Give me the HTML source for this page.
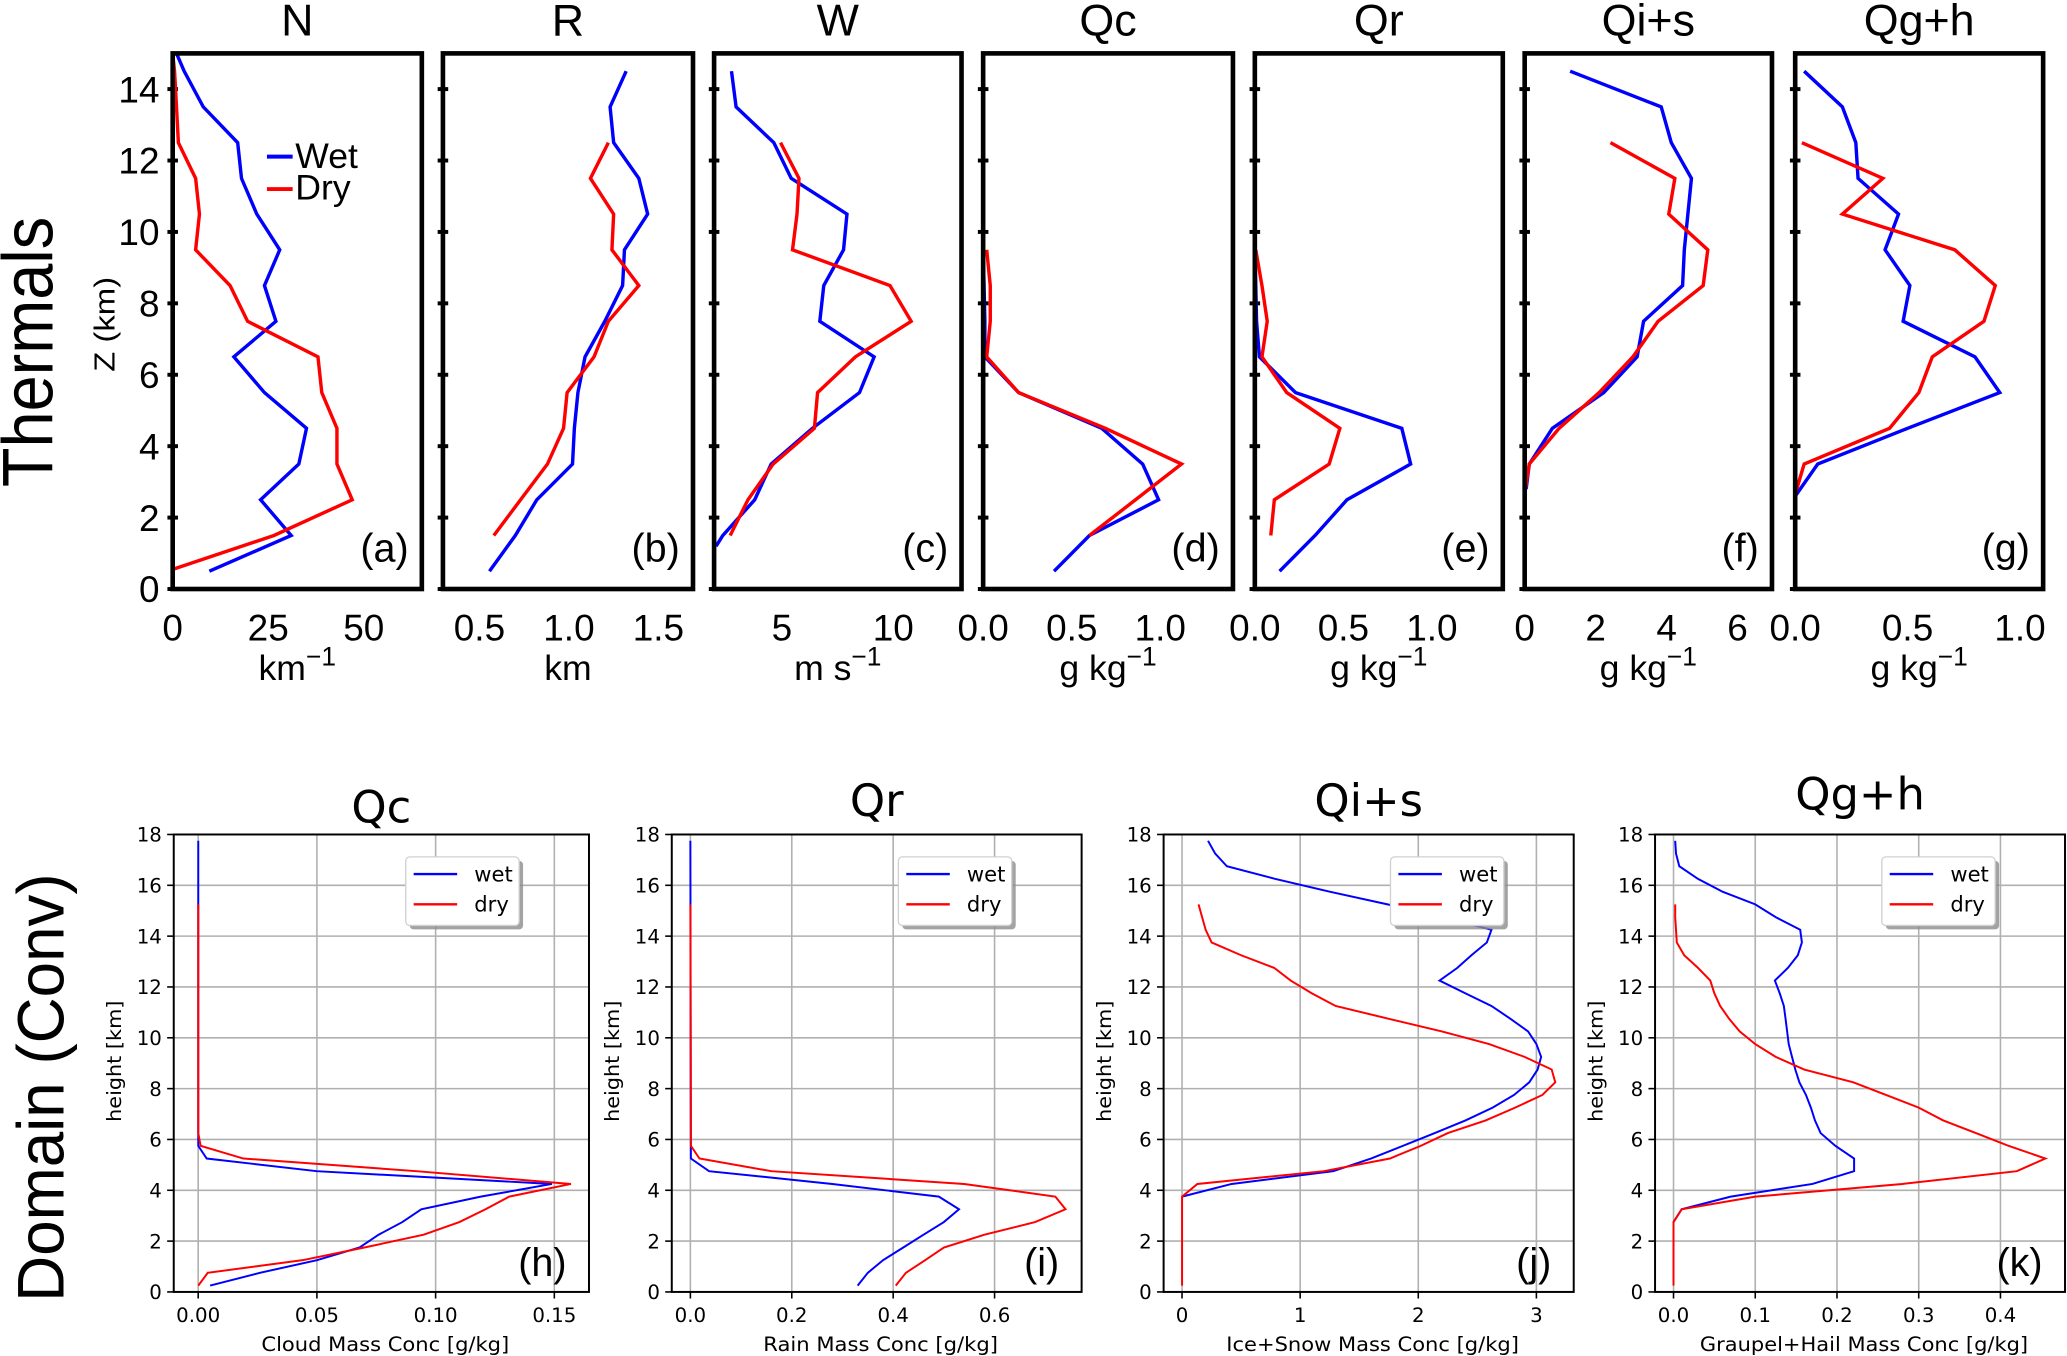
<!DOCTYPE html>
<html><head><meta charset="utf-8"><style>
html,body{margin:0;padding:0;background:#fff;}
svg{display:block;}
</style></head><body>
<svg id="fig" xmlns="http://www.w3.org/2000/svg" width="2067" height="1356" viewBox="0 0 1568 1028.6" preserveAspectRatio="none">
<rect x="0" y="0" width="1568" height="1028.6" fill="#fff"/>
</svg>
<script>
// ---------- TOP ROW (Thermals) DATA ----------
const nWetZ=[0.5,1.5,2.5,3.5,4.5,5.5,6.5,7.5,8.5,9.5,10.5,11.5,12.5,13.5,14.5,15];
const nWetV=[9.6,31,23,33,35,24,16,27,24,28,22,18,17,8,3,1];
const nDryZ=[0.55,1.5,2.5,3.5,4.5,5.5,6.5,7.5,8.5,9.5,10.5,11.5,12.5,13.5,14.5,15];
const nDryV=[0,26.5,47,43,43,39,38,19.6,15,6,7,6,1.5,1,0.5,0];
const rWetZ=[0.5,1.5,2.5,3.5,4.5,5.5,6.5,7.5,8.5,9.5,10.5,11.5,12.5,13.5,14.5];
const rWetV=[0.556,0.70,0.82,1.02,1.03,1.05,1.09,1.2,1.30,1.31,1.44,1.39,1.25,1.23,1.32];
const rDryZ=[1.5,2.5,3.5,4.5,5.5,6.5,7.5,8.5,9.5,10.5,11.5,12.5];
const rDryV=[0.58,0.73,0.88,0.97,0.99,1.14,1.22,1.39,1.24,1.25,1.12,1.22];
const wWetZ=[1.2,1.5,2.5,3.5,4.5,5.5,6.5,7.5,8.5,9.5,10.5,11.5,12.5,13.5,14.5];
const wWetV=[2.05,2.35,3.78,4.52,6.37,8.48,9.14,6.7,6.88,7.77,7.92,5.42,4.64,2.95,2.74];
const wDryZ=[1.5,2.5,3.5,4.5,5.5,6.5,7.5,8.5,9.5,10.5,11.5,12.5];
const wDryV=[2.68,3.48,4.61,6.46,6.6,8.3,10.8,9.85,5.48,5.68,5.77,4.94];
const qcWetZ=[0.5,1.5,2.5,3.5,4.5,5.5,6.5,7.5,8.5,9.5];
const qcWetV=[0.40,0.60,0.99,0.90,0.67,0.2,0.01,0.01,0.005,0.0];
const qcDryZ=[1.5,2.5,3.5,4.5,5.5,6.5,7.5,8.5,9.5];
const qcDryV=[0.60,0.86,1.12,0.69,0.2,0.02,0.04,0.04,0.02];
const qrWetZ=[0.5,1.5,2.5,3.5,4.5,5.5,6.5,7.5,8.5,9.5];
const qrWetV=[0.14,0.34,0.52,0.88,0.83,0.23,0.026,0.01,0.005,0.0];
const qrDryZ=[1.5,2.5,3.5,4.5,5.5,6.5,7.5,8.5,9.5];
const qrDryV=[0.09,0.11,0.42,0.48,0.18,0.04,0.07,0.04,0.005];
const qisWetZ=[2.8,3.5,4.5,5.5,6.5,7.5,8.5,9.5,10.5,11.5,12.5,13.5,14.5];
const qisWetV=[0.04,0.13,0.78,2.23,3.17,3.35,4.45,4.5,4.6,4.7,4.13,3.85,1.28];
const qisDryZ=[2.8,3.5,4.5,5.5,6.5,7.5,8.5,9.5,10.5,11.5,12.5];
const qisDryV=[0.02,0.13,0.97,2.1,3.05,3.76,5.03,5.16,4.06,4.23,2.42];
const qghWetZ=[2.6,3.5,4.5,5.5,6.5,7.5,8.5,9.5,10.5,11.5,12.5,13.5,14.5];
const qghWetV=[0.0,0.10,0.5,0.91,0.80,0.48,0.51,0.40,0.46,0.28,0.27,0.21,0.04];
const qghDryZ=[2.65,3.5,4.5,5.5,6.5,7.5,8.5,9.5,10.5,11.5,12.5];
const qghDryV=[0.0,0.04,0.42,0.55,0.61,0.84,0.89,0.71,0.21,0.39,0.03];

const topTitles=['N','R','W','Qc','Qr','Qi+s','Qg+h'];
const topLetters=['(a)','(b)','(c)','(d)','(e)','(f)','(g)'];
const topXTicks=[[0,25,50],[0.5,1.0,1.5],[5,10],[0.0,0.5,1.0],[0.0,0.5,1.0],[0,2,4,6],[0.0,0.5,1.0]];
const topXTickLabels=[['0','25','50'],['0.5','1.0','1.5'],['5','10'],['0.0','0.5','1.0'],['0.0','0.5','1.0'],['0','2','4','6'],['0.0','0.5','1.0']];
const topYTicks=[0,2,4,6,8,10,12,14];
const topYTickLabels=['0','2','4','6','8','10','12','14'];

// ---------- BOTTOM ROW (Domain) DATA ----------
const hWetZ=[0.25,0.75,1.25,1.75,2.25,2.75,3.25,3.75,4.25,4.75,5.25,5.75,6.25,17.75];
const hWetV=[0.005,0.026,0.05,0.068,0.076,0.086,0.094,0.119,0.149,0.05,0.0036,0.0,0.0,0.0];
const hDryZ=[0.25,0.75,1.25,1.75,2.25,2.75,3.25,3.75,4.25,4.75,5.25,5.75,6.25,15.25];
const hDryV=[0,0.004,0.044,0.07,0.095,0.11,0.121,0.131,0.157,0.092,0.019,0.001,0,0];
const iWetZ=[0.25,0.75,1.25,1.75,2.25,2.75,3.25,3.75,4.25,4.75,5.25,17.75];
const iWetV=[0.33,0.35,0.38,0.42,0.46,0.50,0.53,0.49,0.28,0.037,0.001,0.0];
const iDryZ=[0.25,0.75,1.25,1.75,2.25,2.75,3.25,3.75,4.25,4.75,5.25,5.75,15.25];
const iDryV=[0.405,0.425,0.463,0.50,0.58,0.68,0.74,0.72,0.54,0.16,0.018,0.001,0];
const jWetZ=[3.75,4.25,4.75,5.25,5.75,6.25,6.75,7.25,7.75,8.25,8.75,9.25,9.75,10.25,10.75,11.25,11.75,12.25,12.75,13.25,13.75,14.25,14.75,15.25,15.75,16.25,16.75,17.25,17.75];
const jWetV=[0.0,0.42,1.28,1.6,1.87,2.14,2.4,2.63,2.81,2.94,3.01,3.04,3.0,2.93,2.78,2.62,2.4,2.18,2.33,2.45,2.58,2.62,2.2,1.74,1.25,0.79,0.38,0.28,0.22];
const jDryZ=[0.25,3.25,3.75,4.25,4.75,5.25,5.75,6.25,6.75,7.25,7.75,8.25,8.75,9.25,9.75,10.25,10.75,11.25,11.75,12.25,12.75,13.25,13.75,14.25,14.75,15.25];
const jDryV=[0,0,0,0.13,1.2,1.76,2.02,2.25,2.57,2.82,3.05,3.16,3.13,2.9,2.6,2.2,1.75,1.3,1.1,0.92,0.78,0.5,0.25,0.2,0.17,0.14];
const kWetZ=[2.75,3.25,3.75,4.25,4.75,5.25,5.75,6.25,6.75,7.25,7.75,8.25,8.75,9.25,9.75,10.25,10.75,11.25,11.75,12.25,12.75,13.25,13.75,14.25,14.75,15.25,15.75,16.25,16.75,17.25,17.75];
const kWetV=[0.0,0.01,0.07,0.17,0.221,0.221,0.198,0.18,0.173,0.168,0.162,0.154,0.149,0.145,0.141,0.139,0.137,0.135,0.13,0.124,0.14,0.152,0.157,0.155,0.125,0.1,0.06,0.03,0.007,0.003,0.002];
const kDryZ=[0.25,2.75,3.25,3.75,4.25,4.75,5.25,5.75,6.25,6.75,7.25,7.75,8.25,8.75,9.25,9.75,10.25,10.75,11.25,11.75,12.25,12.75,13.25,13.75,14.25,14.75,15.25];
const kDryV=[0,0,0.01,0.1,0.28,0.42,0.455,0.41,0.37,0.33,0.3,0.26,0.22,0.16,0.125,0.1,0.081,0.068,0.057,0.05,0.045,0.03,0.013,0.004,0.003,0.002,0.002];

const botTitles=['Qc','Qr','Qi+s','Qg+h'];
const botLetters=['(h)','(i)','(j)','(k)'];
const botXLabels=['Cloud Mass Conc [g/kg]','Rain Mass Conc [g/kg]','Ice+Snow Mass Conc [g/kg]','Graupel+Hail Mass Conc [g/kg]'];
const botXTicks=[[0,0.05,0.10,0.15],[0,0.2,0.4,0.6],[0,1,2,3],[0,0.1,0.2,0.3,0.4]];
const botXTickLabels=[['0.00','0.05','0.10','0.15'],['0.0','0.2','0.4','0.6'],['0','1','2','3'],['0.0','0.1','0.2','0.3','0.4']];
const botYTicks=[0,2,4,6,8,10,12,14,16,18];
const botYTickLabels=['0','2','4','6','8','10','12','14','16','18'];

// ---------- LAYOUT ----------
const NS='http://www.w3.org/2000/svg';
const svg=document.getElementById('fig');
function mk(tag,attrs,parent){const e=document.createElementNS(NS,tag);for(const k in attrs)e.setAttribute(k,attrs[k]);(parent||svg).appendChild(e);return e;}
const NARROW='"Liberation Sans Narrow","Liberation Sans",sans-serif';
const SANS='"Liberation Sans",sans-serif';
const DJ='"DejaVu Sans","Liberation Sans",sans-serif';

const topLayout=[
 {left:131,right:320,xmin:0,xmax:65.2},
 {left:336,right:525.7,xmin:0.296,xmax:1.693},
 {left:541.7,right:729.4,xmin:1.96,xmax:13.06},
 {left:745.8,right:935.3,xmin:0,xmax:1.41},
 {left:951.9,right:1140,xmin:0,xmax:1.40},
 {left:1156.6,right:1344.2,xmin:0,xmax:6.97},
 {left:1361.8,right:1549.9,xmin:0,xmax:1.103}];
const topWet=[[nWetZ,nWetV],[rWetZ,rWetV],[wWetZ,wWetV],[qcWetZ,qcWetV],[qrWetZ,qrWetV],[qisWetZ,qisWetV],[qghWetZ,qghWetV]];
const topDry=[[nDryZ,nDryV],[rDryZ,rDryV],[wDryZ,wDryV],[qcDryZ,qcDryV],[qrDryZ,qrDryV],[qisDryZ,qisDryV],[qghDryZ,qghDryV]];
const topUnits=[['km','−1'],['km',''],['m s','−1'],['g kg','−1'],['g kg','−1'],['g kg','−1'],['g kg','−1']];
const T_TOP=40.5, T_BOT=446.8, T_ZMAX=15;

// row labels
let t=mk('text',{x:40,y:267,transform:'rotate(-90 40 267)','text-anchor':'middle','font-family':SANS,'font-size':54,fill:'#000',textLength:205,lengthAdjust:'spacingAndGlyphs'});
t.textContent='Thermals';


t=mk('text',{x:48,y:825,transform:'rotate(-90 48 825)','text-anchor':'middle','font-family':SANS,'font-size':50,fill:'#000',textLength:325,lengthAdjust:'spacingAndGlyphs'});
t.textContent='Domain (Conv)';


t=mk('text',{x:87,y:246,transform:'rotate(-90 87 246)','text-anchor':'middle','font-family':SANS,'font-size':22,fill:'#000',textLength:72,lengthAdjust:'spacingAndGlyphs'});
t.textContent='Z (km)';



const defs=mk('defs',{});
topLayout.forEach((p,i)=>{
  const g=mk('g',{});
  
  
  const xs=v=>p.left+(v-p.xmin)/(p.xmax-p.xmin)*(p.right-p.left);
  const ys=z=>T_BOT-z/T_ZMAX*(T_BOT-T_TOP);
  const cx=(p.left+p.right)/2;
  const title=mk('text',{x:cx,y:27,'text-anchor':'middle','font-family':NARROW,'font-size':34,fill:'#000'},g);
  title.textContent=topTitles[i];
  
  
  const cp=mk('clipPath',{id:'tc'+i},defs);
  mk('rect',{x:p.left,y:T_TOP,width:p.right-p.left,height:T_BOT-T_TOP},cp);
  // ticks
  topYTicks.forEach((v,k)=>{
    const tk=mk('line',{x1:p.left-4,x2:p.left+4,y1:ys(v),y2:ys(v),stroke:'#000','stroke-width':3},g);
    
    
    if(i===0){
      const tl=mk('text',{x:121,y:ys(v)+10,'text-anchor':'end','font-family':NARROW,'font-size':28,fill:'#000'},g);
      tl.textContent=topYTickLabels[k];
      
      
    }
  });
  topXTicks[i].forEach((v,k)=>{
    const tl=mk('text',{x:xs(v),y:486,'text-anchor':'middle','font-family':NARROW,'font-size':28,fill:'#000'},g);
    tl.textContent=topXTickLabels[i][k];
    
    
  });
  const ul=mk('text',{x:cx,y:516,'text-anchor':'middle','font-family':NARROW,'font-size':27,fill:'#000'},g);
  
  
  ul.appendChild(document.createTextNode(topUnits[i][0]));
  if(topUnits[i][1]){const sp=mk('tspan',{dy:-11,'font-size':20},ul);sp.textContent=topUnits[i][1];}
  // series
  [[topWet[i],'#0000ff','wet'],[topDry[i],'#ff0000','dry']].forEach(([s,c,n])=>{
    const pts=s[0].map((z,k)=>xs(s[1][k]).toFixed(1)+','+ys(z).toFixed(1)).join(' ');
    const pl=mk('polyline',{points:pts,fill:'none',stroke:c,'stroke-width':2.6,'stroke-linejoin':'miter','clip-path':'url(#tc'+i+')'},g);
    
    
  });
  const fr=mk('rect',{x:p.left,y:T_TOP,width:p.right-p.left,height:T_BOT-T_TOP,fill:'none',stroke:'#000','stroke-width':3.5},g);
  
  
  const lt=mk('text',{x:p.right-10,y:426,'text-anchor':'end','font-family':SANS,'font-size':30,fill:'#000'},g);
  lt.textContent=topLetters[i];
  
  
});
// top legend
const tlg=mk('g',{});


[['Wet','#0000ff',118.8,127.6],['Dry','#ff0000',143.4,151.5]].forEach(([lab,c,ly,ty])=>{
  const ln=mk('line',{x1:202.5,x2:222,y1:ly,y2:ly,stroke:c,'stroke-width':3},tlg);
  
  
  const tx=mk('text',{x:224,y:ty,'font-family':NARROW,'font-size':27,fill:'#000'},tlg);
  tx.textContent=lab;
  
  
});

// ---------- bottom panels ----------
const botLayout=[
 {left:131.8,right:446.8,xmin:-0.0103,xmax:0.1646,titleY:624},
 {left:509.6,right:820.5,xmin:-0.0367,xmax:0.7717,titleY:619},
 {left:882.7,right:1193.8,xmin:-0.156,xmax:3.316,titleY:619},
 {left:1255.5,right:1566.5,xmin:-0.0226,xmax:0.479,titleY:614}];
const botWet=[[hWetZ,hWetV],[iWetZ,iWetV],[jWetZ,jWetV],[kWetZ,kWetV]];
const botDry=[[hDryZ,hDryV],[iDryZ,iDryV],[jDryZ,jDryV],[kDryZ,kDryV]];
const xlabLen=[188,178,222,249];
const B_TOP=633, B_BOT=980, B_ZMAX=18;
botLayout.forEach((p,i)=>{
  const g=mk('g',{});
  
  
  const xs=v=>p.left+(v-p.xmin)/(p.xmax-p.xmin)*(p.right-p.left);
  const ys=z=>B_BOT-z/B_ZMAX*(B_BOT-B_TOP);
  const cx=(p.left+p.right)/2;
  const title=mk('text',{x:cx,y:p.titleY,'text-anchor':'middle','font-family':DJ,'font-size':34,fill:'#000'},g);
  title.textContent=botTitles[i];
  
  
  const cp=mk('clipPath',{id:'bc'+i},defs);
  mk('rect',{x:p.left,y:B_TOP,width:p.right-p.left,height:B_BOT-B_TOP},cp);
  botYTicks.forEach((v,k)=>{
    const gl=mk('line',{x1:p.left,x2:p.right,y1:ys(v),y2:ys(v),stroke:'#b0b0b0','stroke-width':1.2},g);
    
    
    const tk=mk('line',{x1:p.left-5,x2:p.left,y1:ys(v),y2:ys(v),stroke:'#000','stroke-width':1.2},g);
    
    
    const tl=mk('text',{x:p.left-9,y:ys(v)+5.5,'text-anchor':'end','font-family':DJ,'font-size':15,fill:'#000'},g);
    tl.textContent=botYTickLabels[k];
    
    
  });
  botXTicks[i].forEach((v,k)=>{
    const gl=mk('line',{x1:xs(v),x2:xs(v),y1:B_TOP,y2:B_BOT,stroke:'#b0b0b0','stroke-width':1.2},g);
    
    
    const tk=mk('line',{x1:xs(v),x2:xs(v),y1:B_BOT,y2:B_BOT+5,stroke:'#000','stroke-width':1.2},g);
    
    
    const tl=mk('text',{x:xs(v),y:1003,'text-anchor':'middle','font-family':DJ,'font-size':15,fill:'#000'},g);
    tl.textContent=botXTickLabels[i][k];
    
    
  });
  const xl=mk('text',{x:cx+3,y:1025,'text-anchor':'middle','font-family':DJ,'font-size':15,fill:'#000',textLength:xlabLen[i],lengthAdjust:'spacingAndGlyphs'},g);
  xl.textContent=botXLabels[i];
  
  
  const yx=p.left-40;
  const yl=mk('text',{x:yx,y:805,transform:'rotate(-90 '+yx+' 805)','text-anchor':'middle','font-family':DJ,'font-size':15,fill:'#000',textLength:92,lengthAdjust:'spacingAndGlyphs'},g);
  yl.textContent='height [km]';
  
  
  [[botWet[i],'#0000ff','wet'],[botDry[i],'#ff0000','dry']].forEach(([s,c,n])=>{
    const pts=s[0].map((z,k)=>xs(s[1][k]).toFixed(1)+','+ys(z).toFixed(1)).join(' ');
    const pl=mk('polyline',{points:pts,fill:'none',stroke:c,'stroke-width':1.5,'clip-path':'url(#bc'+i+')'},g);
    
    
  });
  const fr=mk('rect',{x:p.left,y:B_TOP,width:p.right-p.left,height:B_BOT-B_TOP,fill:'none',stroke:'#000','stroke-width':1.5},g);
  
  
  // legend
  const lx=p.right-53-86, ly=650;
  const lg=mk('g',{},g);
  
  
  mk('rect',{x:lx+3,y:ly+3,width:86,height:52,rx:3,fill:'#8c8c8c','fill-opacity':0.8},lg);
  mk('rect',{x:lx,y:ly,width:86,height:52,rx:3,fill:'#fff',stroke:'#d0d0d0','stroke-width':1},lg);
  [['wet','#0000ff',663],['dry','#ff0000',686]].forEach(([lab,c,yy])=>{
    const ln=mk('line',{x1:lx+6,x2:lx+39,y1:yy,y2:yy,stroke:c,'stroke-width':1.8},lg);
    
    
    const tx=mk('text',{x:lx+52,y:yy+5.5,'font-family':DJ,'font-size':16,fill:'#000'},lg);
    tx.textContent=lab;
    
    
  });
  const lt=mk('text',{x:p.right-17,y:968,'text-anchor':'end','font-family':SANS,'font-size':30,fill:'#000'},g);
  lt.textContent=botLetters[i];
  
  
});
</script>
</body></html>
